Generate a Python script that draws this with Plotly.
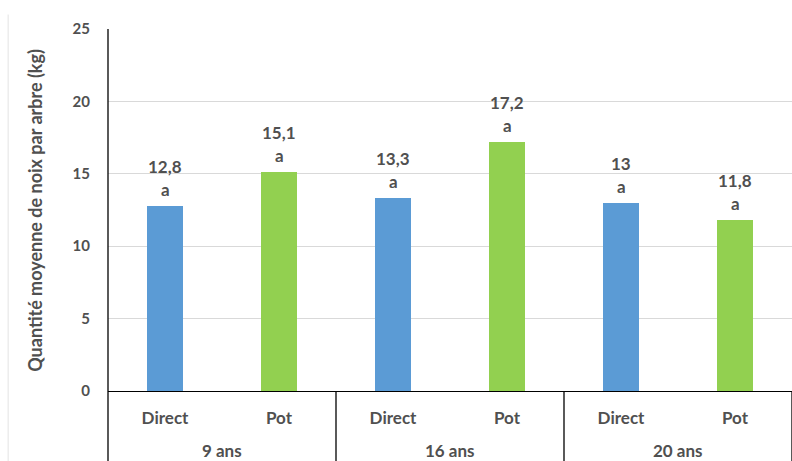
import plotly.graph_objects as go

groups = ["9 ans", "16 ans", "20 ans"]
modes = ["Direct", "Pot"]
values = [12.8, 15.1, 13.3, 17.2, 13.0, 11.8]
letters = ["a", "a", "a", "a", "a", "a"]
colors_by_mode = {"Direct": "#5B9BD5", "Pot": "#92D050"}
y_ticks = [0, 5, 10, 15, 20, 25]

TXT = "#505050"
FONT = "Lato"

cats = [(g, m) for g in groups for m in modes]
xs = list(range(len(cats)))
bar_colors = [colors_by_mode[m] for _, m in cats]

fig = go.Figure()
fig.add_trace(go.Bar(x=xs, y=values, marker_color=bar_colors, width=0.31,
                     marker_line_width=0, hoverinfo="skip"))

annotations = []
for x, v, l in zip(xs, values, letters):
    lab = f"{v:g}".replace(".", ",")
    annotations.append(dict(x=x, y=v, xref="x", yref="y", text=f"<b>{l}</b>",
                            showarrow=False, yanchor="bottom", yshift=4,
                            font=dict(family=FONT, size=17, color=TXT)))
    annotations.append(dict(x=x, y=v, xref="x", yref="y", text=f"<b>{lab}</b>",
                            showarrow=False, yanchor="bottom", yshift=27,
                            font=dict(family=FONT, size=17, color=TXT)))

# group labels
for gi, g in enumerate(groups):
    annotations.append(dict(x=gi * 2 + 0.5, y=0, xref="x", yref="paper", text=f"<b>{g}</b>",
                            showarrow=False, yanchor="middle", yshift=-59,
                            font=dict(family=FONT, size=17, color=TXT)))

# y-axis title
annotations.append(dict(x=-0.107, y=0.5, xref="paper", yref="paper",
                        xanchor="center", yanchor="middle",
                        text="<b>Quantité moyenne de noix par arbre (kg)</b>",
                        textangle=-90, showarrow=False,
                        font=dict(family=FONT, size=18, color=TXT)))

shapes = []
# left axis line extended down
shapes.append(dict(type="line", xref="paper", yref="paper", x0=0, x1=0, y0=1, y1=-0.2,
                   line=dict(color="black", width=1.3)))
# group separators
for gi in range(1, len(groups) + 1):
    xsep = gi * 2 - 0.5
    shapes.append(dict(type="line", xref="x", yref="paper", x0=xsep, x1=xsep, y0=0, y1=-0.2,
                       line=dict(color="black", width=1.3)))
# faint chart border
shapes.append(dict(type="line", xref="paper", yref="paper", x0=-0.146, x1=-0.146, y0=1.04, y1=-0.2,
                   line=dict(color="#E3E3E3", width=1)))

fig.update_layout(
    width=792, height=461,
    margin=dict(l=108, r=0, t=29, b=70),
    paper_bgcolor="white", plot_bgcolor="white",
    showlegend=False,
    bargap=0,
    annotations=annotations,
    shapes=shapes,
    xaxis=dict(range=[-0.5, 5.5], tickvals=xs, ticktext=[f"<b>{m}</b>" for _, m in cats],
               tickfont=dict(family=FONT, size=17, color=TXT),
               showgrid=False, zeroline=False, showline=True, linecolor="black", linewidth=1.3,
               ticks="outside", ticklen=11, tickcolor="rgba(0,0,0,0)", fixedrange=True),
    yaxis=dict(range=[0, 25], tickvals=y_ticks, ticktext=[f"<b>{t}</b>" for t in y_ticks],
               tickfont=dict(family=FONT, size=15, color=TXT),
               showgrid=True, gridcolor="#D9D9D9", gridwidth=1,
               zeroline=False, showline=False,
               ticks="outside", ticklen=14, tickcolor="rgba(0,0,0,0)", fixedrange=True),
)

fig.write_html("out.html", config={"displayModeBar": False})
